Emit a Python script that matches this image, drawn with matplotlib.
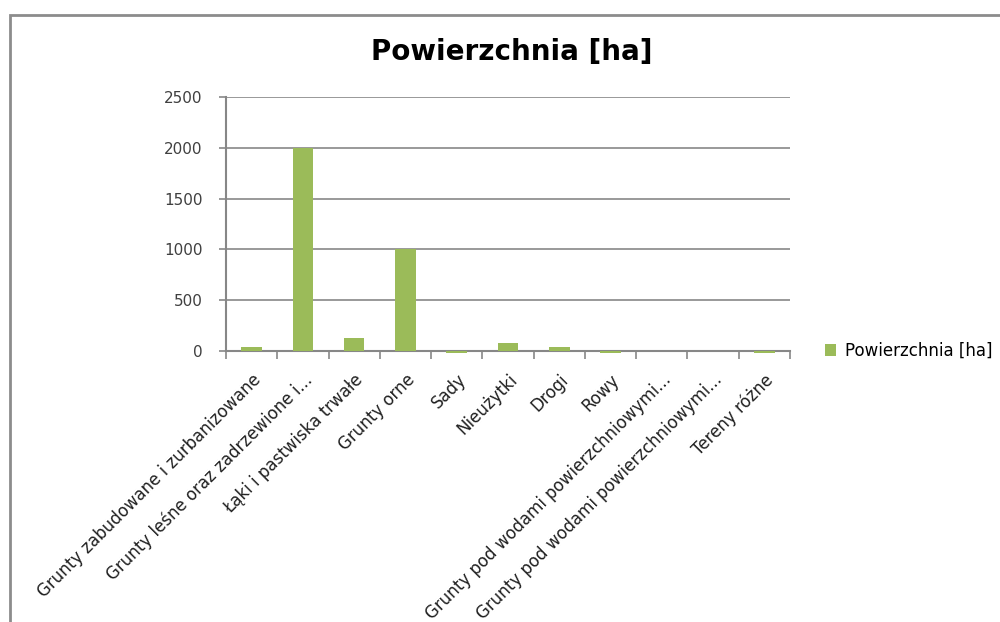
import matplotlib.pyplot as plt
import matplotlib.patches as patches
import numpy as np

categories = ["Grunty zabudowane i zurbanizowane",
              "Grunty leśne oraz zadrzewione i...",
              "Łąki i pastwiska trwałe",
              "Grunty orne",
              "Sady",
              "Nieużytki",
              "Drogi",
              "Rowy",
              "Grunty pod wodami powierzchniowymi...",
              "Grunty pod wodami powierzchniowymi...",
              "Tereny różne"]
values = [40, 2000, 127, 1000, -20, 78, 40, -20, 0, 0, -20]
yticks = [0, 500, 1000, 1500, 2000, 2500]

bar_color = "#9bbb59"
axis_color = "#878787"

plt.rcParams["font.family"] = ["DejaVu Sans"]

fig = plt.figure(figsize=(10, 6.22), dpi=100)
ax = fig.add_axes([0.226, 1 - 351 / 622, 0.564, (351 - 97) / 622])

x = np.arange(len(categories))
bars = ax.bar(x, values, width=0.4, color=bar_color, zorder=4, label="Powierzchnia [ha]")
for b in bars:
    b.set_clip_on(False)

ax.set_xlim(-0.5, len(categories) - 0.5)
ax.set_ylim(0, 2500)
ax.set_yticks(yticks)
ax.set_yticklabels([str(v) for v in yticks], fontsize=11, color="#404040")
ax.yaxis.grid(True, color=axis_color, linewidth=1.2, zorder=0)
ax.tick_params(axis="y", length=5, width=1.2, color=axis_color, pad=12)

ax.set_xticks(x)
ax.set_xticklabels(categories, rotation=45, ha="right", rotation_mode="anchor",
                   fontsize=12, color="#202020")
ax.tick_params(axis="x", length=0, pad=14)
ax.set_xticks(np.arange(-0.5, len(categories)), minor=True)
ax.tick_params(axis="x", which="minor", length=6, width=1.2, color=axis_color)

for side in ["top", "right"]:
    ax.spines[side].set_visible(False)
for side in ["left", "bottom"]:
    ax.spines[side].set_color(axis_color)
    ax.spines[side].set_linewidth(1.5)

fig.text(0.512, 1 - 52 / 622, "Powierzchnia [ha]", ha="center", va="center",
         fontsize=20, fontweight="bold", color="black")

ax.legend(loc="center left", bbox_to_anchor=(1.035, 0.0), frameon=False,
          fontsize=12, handlelength=0.7, handleheight=0.7, handletextpad=0.5)

# chart area border
fig.patches.append(patches.Rectangle((10 / 1000, -0.1), 1.2, 1 - 15 / 622 + 0.1,
                                     transform=fig.transFigure, fill=False,
                                     edgecolor="#8c8c8c", linewidth=2))

fig.savefig("out.png", dpi=100)
